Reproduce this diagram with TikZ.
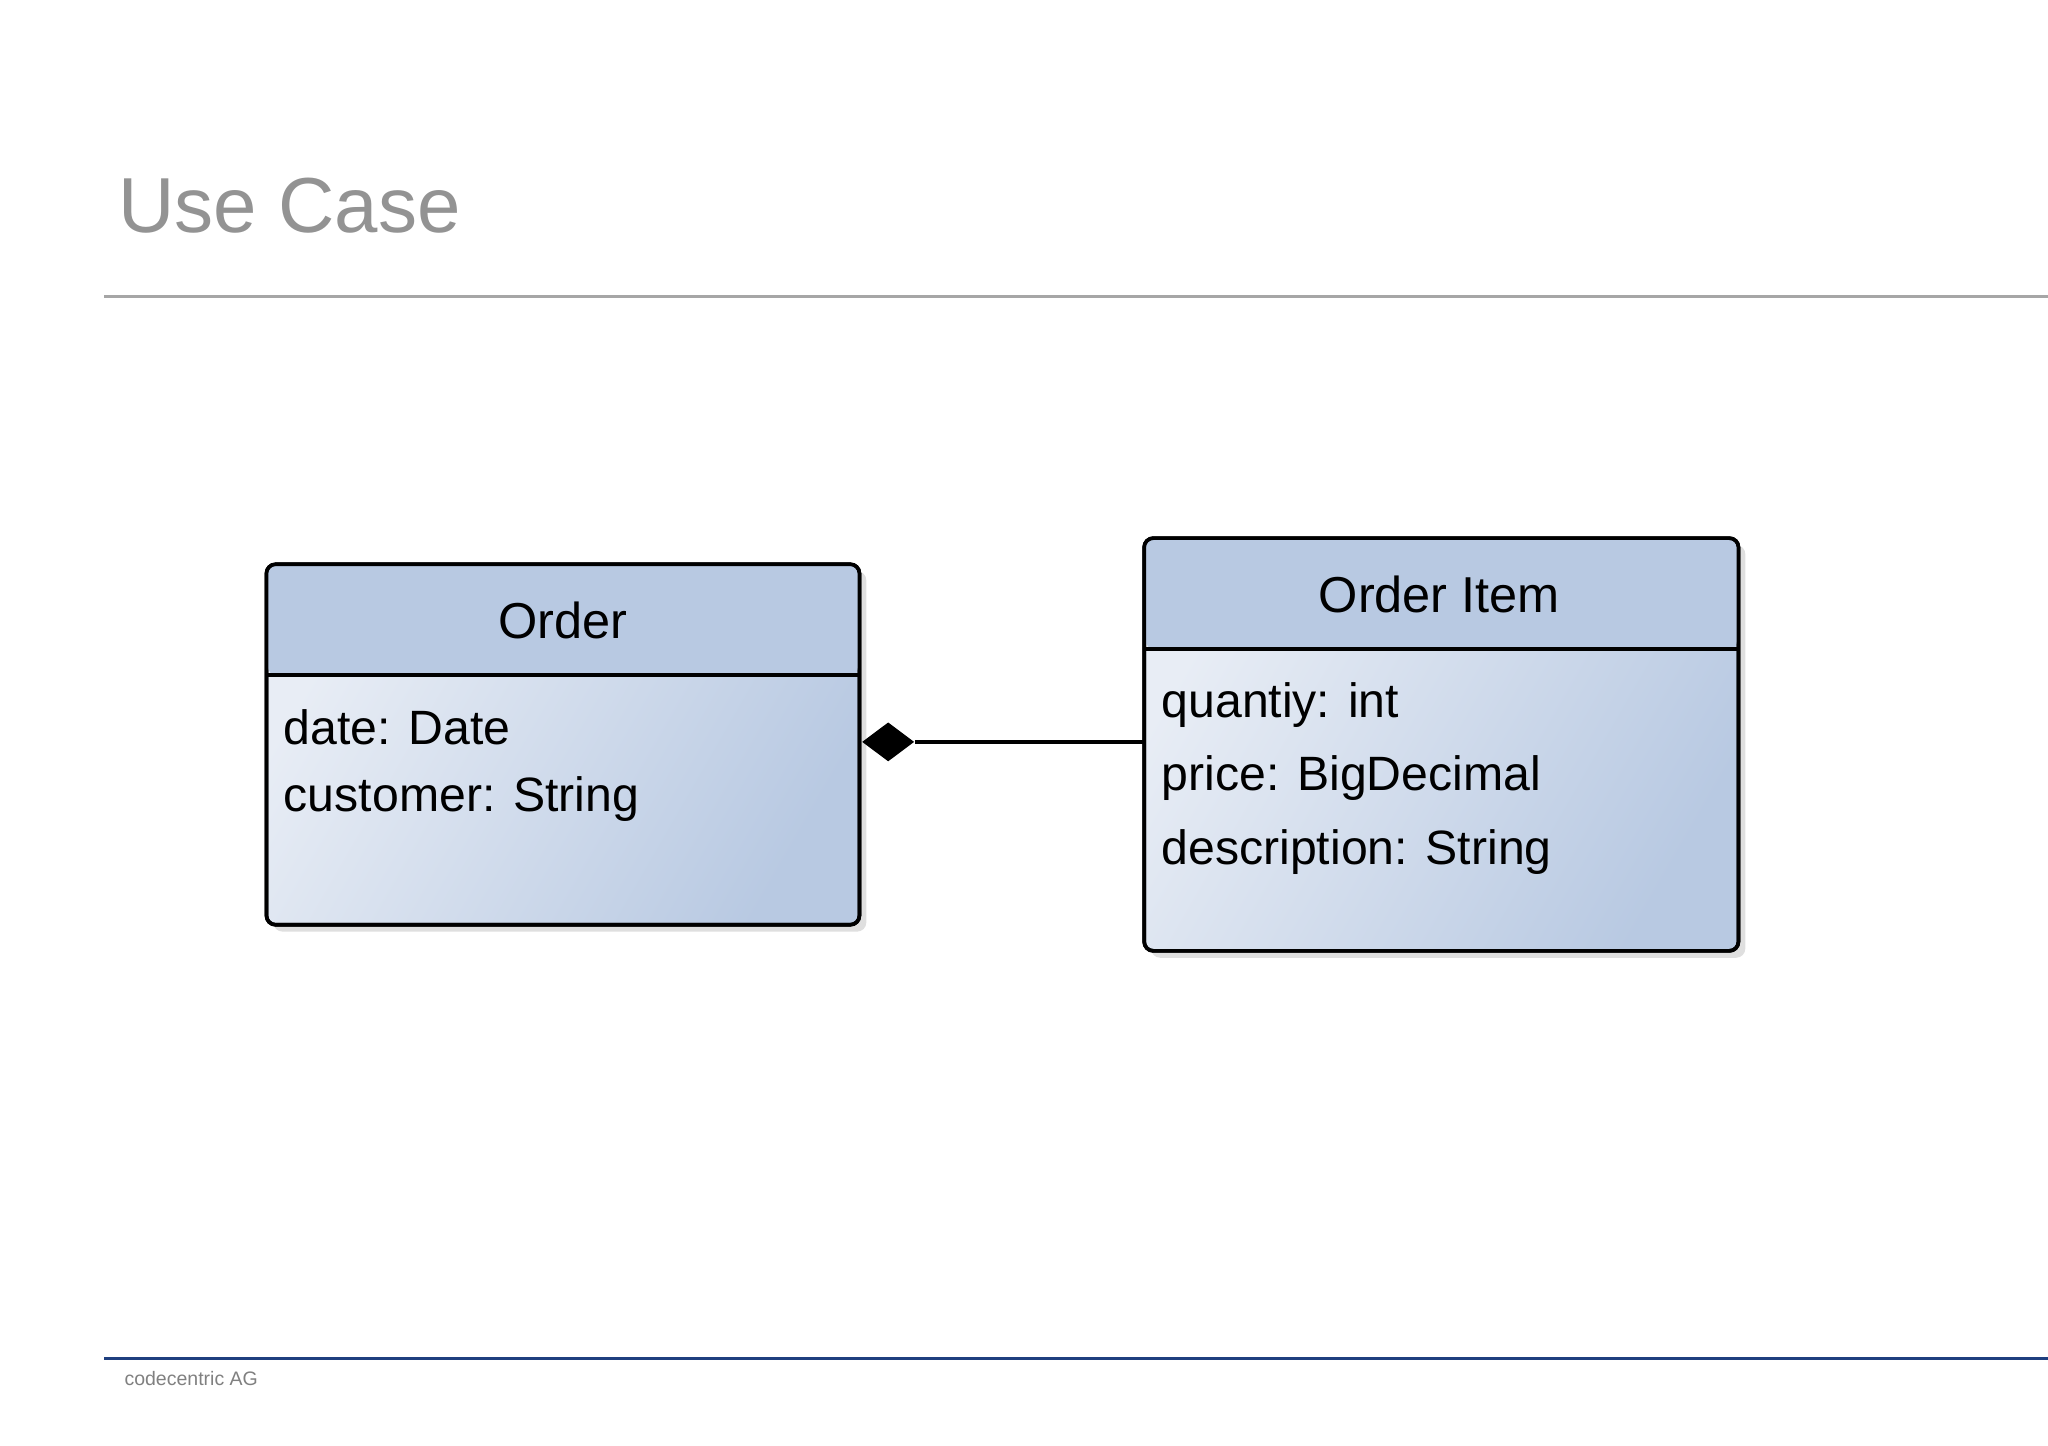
\documentclass[tikz,border=0pt]{standalone}
\usepackage{fontspec}
\setmainfont{Liberation Sans}
\usetikzlibrary{shadows,shapes.geometric}
\definecolor{hdr}{HTML}{B8C9E2}
\definecolor{lite}{HTML}{E8EDF5}
\definecolor{foot}{HTML}{1F3F7F}
\begin{document}
\begin{tikzpicture}[x=0.02cm,y=-0.02cm,
  box/.style={draw=black,line width=1.6pt,rounded corners=4pt,drop shadow={opacity=0.25,shadow xshift=3pt,shadow yshift=-3pt}},
  attr/.style={anchor=north west,font=\fontsize{21}{29}\selectfont,align=left,inner sep=0pt},
  ttl/.style={font=\fontsize{22}{26}\selectfont}]
\useasboundingbox (0,0) rectangle (1568,1107);
\node[anchor=base west,text=gray!85,font=\fontsize{34}{40}\selectfont,inner sep=0pt] (title) at (90,178) {Use Case};
\draw[gray!70,line width=1pt] (80,227) -- (1568,227);
% Order
\path[box,left color=lite,right color=hdr,shading angle=60] (204,432) rectangle (658,708);
\fill[hdr,rounded corners=4pt] (205,433) rectangle (657,517);
\draw[line width=1.6pt,rounded corners=4pt] (204,432) rectangle (658,708);
\draw[line width=1.6pt] (204,517) -- (658,517);
\node[ttl] (order) at (431,475) {Order};
\node[attr] (oattr) at (217,543) {date: Date\\customer: String};
% Order Item
\path[box,left color=lite,right color=hdr,shading angle=60] (876,412) rectangle (1331,728);
\fill[hdr,rounded corners=4pt] (877,413) rectangle (1330,497);
\draw[line width=1.6pt,rounded corners=4pt] (876,412) rectangle (1331,728);
\draw[line width=1.6pt] (876,497) -- (1331,497);
\node[ttl] (item) at (1102,455) {Order Item};
\node[attr,font=\fontsize{21}{32}\selectfont] (iattr) at (889,522) {quantiy: int\\price: BigDecimal\\description: String};
% connector
\node[diamond,fill=black,minimum width=40\pgflinewidth,inner sep=0pt,minimum width=0.8cm,minimum height=0.6cm] (dia) at (680,568) {};
\coordinate (iend) at (875,568);
\draw[line width=1.6pt] (dia.east) -- (iend);
% footer
\draw[foot,line width=1pt] (80,1040) -- (1568,1040);
\node[anchor=base west,text=gray,font=\fontsize{8.5}{10}\selectfont,inner sep=0pt] (ft) at (95,1061) {codecentric AG};
\end{tikzpicture}
\end{document}
